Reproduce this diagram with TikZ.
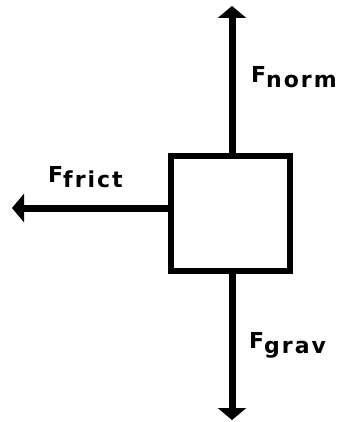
\documentclass[tikz,border=0pt]{standalone}
\usepackage{fontspec}
\setmainfont{DejaVu Sans}
\usetikzlibrary{arrows.meta}
\newcommand{\subtxt}[1]{\raisebox{-5pt}{\fontsize{22}{22}\selectfont\addfontfeature{LetterSpace=9}#1}}
\begin{document}
\begin{tikzpicture}[x=1pt,y=-1pt,
  force/.style={line width=7pt,-{Triangle[width=28pt,length=12pt]}},
  lbl/.style={font=\bfseries\fontsize{22}{22}\selectfont,anchor=west,inner sep=0pt}]
\useasboundingbox (0,0) rectangle (339,422);
\node[draw,line width=6pt,minimum width=119pt,minimum height=115pt,inner sep=0pt] (box) at (230.5,213.5) {};
\coordinate (top) at (232,6);
\coordinate (bot) at (232,420);
\coordinate (left) at (12,208);
\draw[force] (box.north -| top) -- (top);
\draw[force] (box.south -| bot) -- (bot);
\draw[force] (box.west |- left) -- (left);
\node[lbl] (nnorm) at (251,77) {F\subtxt{norm}};
\node[lbl] (nfrict) at (48,177) {F\subtxt{frict}};
\node[lbl] (ngrav) at (249,345) {F\subtxt{grav}};
\end{tikzpicture}
\end{document}
